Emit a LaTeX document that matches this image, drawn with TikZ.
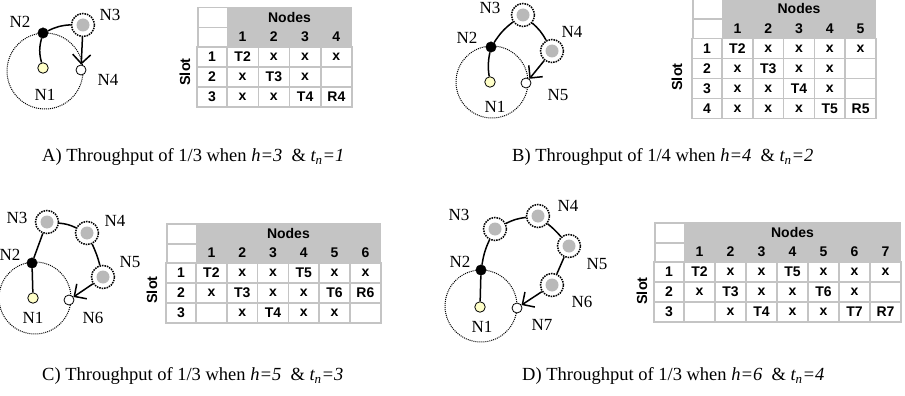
\documentclass[tikz,border=0pt]{standalone}
\usepackage{fontspec}
\setmainfont{Liberation Serif}
\newfontfamily\arialf{Liberation Sans}
\usetikzlibrary{arrows.meta}
\definecolor{gridgray}{RGB}{196,196,196}
\definecolor{hdrgray}{RGB}{196,196,196}
\definecolor{nodegray}{RGB}{185,185,185}
\definecolor{paleyellow}{RGB}{255,255,200}

\newcommand\slottable[5]{%
 % #1 prefix, #2 x0, #3 y0, #4 ncols, #5 colw, rows taken from \tblrows
 \begin{scope}[shift={(#2,#3)}]
  \node[hdrbox, anchor=north west, minimum width={#4*#5pt}] (#1-hdr) at (30,0) {};
  \node[cell, anchor=north west, minimum width=30pt] (#1-e1) at (0,0) {};
  \node[cell, anchor=north west, minimum width=30pt] (#1-e2) at (0,20) {};
  \node[tabtext] (#1-nodes) at ({30+#4*#5/2}, 10) {Nodes};
  \foreach \c in {1,...,#4} {\node[tabtext] (#1-h\c) at ({30+(\c-0.5)*#5}, 30) {\c};}
  \foreach \row [count=\r] in \tblrows {
    \node[cell, minimum width=30pt] (#1-s\r) at (15, {40+(\r-0.5)*20}) {\r};
    \foreach \cv [count=\c] in \row {
      \node[cell, minimum width=#5pt] (#1-\r-\c) at ({30+(\c-0.5)*#5}, {40+(\r-0.5)*20}) {\cv};
    }
  }
 \end{scope}}

\begin{document}
\begin{tikzpicture}[x=1pt,y=-1pt,
  cell/.style={draw=gridgray, line width=1.5pt, fill=white, minimum height=20pt, inner sep=0pt, font=\arialf\bfseries\fontsize{14}{14}\selectfont},
  hdrbox/.style={fill=hdrgray, minimum height=40pt, inner sep=0pt},
  tabtext/.style={inner sep=0pt, font=\arialf\bfseries\fontsize{14}{14}\selectfont},
  slotlbl/.style={rotate=90, inner sep=0pt, font=\arialf\bfseries\fontsize{14.5}{14.5}\selectfont},
  ring/.style={circle, draw, densely dotted, line width=1pt, inner sep=0pt},
  yellowdot/.style={circle, draw, line width=0.8pt, fill=paleyellow, minimum size=10.5pt, inner sep=0pt},
  blackdot/.style={circle, draw, fill=black, minimum size=10.5pt, inner sep=0pt},
  whitedot/.style={circle, draw, fill=white, line width=0.8pt, minimum size=10pt, inner sep=0pt},
  relay/.style={circle, draw, densely dotted, line width=1.5pt, minimum size=23pt, inner sep=0pt,
     path picture={\fill[nodegray] (path picture bounding box.center) circle (6.5);}},
  link/.style={line width=1.5pt},
  arr/.style={line width=1.5pt, -{Straight Barb[length=9pt,width=18pt,line width=1.5pt]}},
  lbl/.style={inner sep=0pt, font=\fontsize{17}{17}\selectfont},
  caption/.style={inner sep=0pt, anchor=west, font=\fontsize{18.5}{18.5}\selectfont},
]
\useasboundingbox (0,0) rectangle (905,396);

% ---------- A ----------
\node[ring, minimum size=76pt] (ringA) at (45,71) {};
\node[yellowdot] (A1) at (43,68) {};
\node[blackdot] (A2) at (43,33) {};
\node[relay] (A3) at (83,25) {};
\node[whitedot] (A4) at (81,70) {};
\draw[link] (A2) to[bend right=15] (A1);
\draw[link] (A2) to[bend left=12] (A3);
\draw[arr] (A3) -- (A4);
\node[lbl] (LA2) at (20,22) {N2};
\node[lbl] (LA3) at (110,15) {N3};
\node[lbl] (LA4) at (108,80) {N4};
\node[lbl] (LA1) at (45,95) {N1};

% ---------- B ----------
\node[ring, minimum size=72pt] (ringB) at (492,82) {};
\node[yellowdot] (B1) at (490,82) {};
\node[blackdot] (B2) at (491,47) {};
\node[relay] (B3) at (523,15) {};
\node[relay] (B4) at (552,51) {};
\node[whitedot] (B5) at (526,83) {};
\draw[link] (B2) to[bend right=10] (B1);
\draw[link] (B2) to[bend left=10] (B3);
\draw[link] (B3) to[bend left=10] (B4);
\draw[arr] (B4) -- (B5);
\node[lbl] (LB3) at (490,7.5) {N3};
\node[lbl] (LB2) at (467,38) {N2};
\node[lbl] (LB4) at (572,32) {N4};
\node[lbl] (LB5) at (558,95) {N5};
\node[lbl] (LB1) at (495,107) {N1};

% ---------- C ----------
\node[ring, minimum size=72pt] (ringC) at (35,298) {};
\node[yellowdot] (C1) at (33,298) {};
\node[blackdot] (C2) at (32,263) {};
\node[relay] (C3) at (47,222) {};
\node[relay] (C4) at (87,233) {};
\node[relay] (C5) at (103,277) {};
\node[whitedot] (C6) at (69,300) {};
\draw[link] (C2) -- (C1);
\draw[link] (C2) -- (C3);
\draw[link] (C3) to[bend left=10] (C4);
\draw[link] (C4) to[bend left=5] (C5);
\draw[arr] (C5) -- (C6);
\node[lbl] (LC3) at (17,218) {N3};
\node[lbl] (LC4) at (115,221) {N4};
\node[lbl] (LC2) at (10,255) {N2};
\node[lbl] (LC5) at (130,262) {N5};
\node[lbl] (LC6) at (93,318) {N6};
\node[lbl] (LC1) at (33,318) {N1};

% ---------- D ----------
\node[ring, minimum size=72pt] (ringD) at (481,306) {};
\node[yellowdot] (D1) at (480,307) {};
\node[blackdot] (D2) at (481,270) {};
\node[relay] (D3) at (495,229) {};
\node[relay] (D4) at (538,216) {};
\node[relay] (D5) at (569,246) {};
\node[relay] (D6) at (552,285) {};
\node[whitedot] (D7) at (517,308) {};
\draw[link] (D2) -- (D1);
\draw[link] (D2) to[bend left=8] (D3);
\draw[link] (D3) to[bend left=10] (D4);
\draw[link] (D4) to[bend left=5] (D5);
\draw[link] (D5) -- (D6);
\draw[arr] (D6) -- (D7);
\node[lbl] (LD3) at (459,215) {N3};
\node[lbl] (LD2) at (460,262) {N2};
\node[lbl] (LD4) at (568,206) {N4};
\node[lbl] (LD5) at (597,264) {N5};
\node[lbl] (LD6) at (582,302) {N6};
\node[lbl] (LD7) at (542,325) {N7};
\node[lbl] (LD1) at (482,327) {N1};

% ---------- tables ----------
\def\tblrows{{T2,x,x,x},{x,T3,x,{}},{x,x,T4,R4}}
\slottable{TA}{197}{7}{4}{31.25}
\node[slotlbl] (SA) at (185,72) {Slot};

\def\tblrows{{T2,x,x,x,x},{x,T3,x,x,{}},{x,x,T4,x,{}},{x,x,x,T5,R5}}
\slottable{TB}{692}{-1.5}{5}{30.8}
\node[slotlbl] (SB) at (677,77) {Slot};

\def\tblrows{{T2,x,x,T5,x,x},{x,T3,x,x,T6,R6},{{},x,T4,x,x,{}}}
\slottable{TC}{166}{223}{6}{30.8}
\node[slotlbl] (SC) at (152,290) {Slot};

\def\tblrows{{T2,x,x,T5,x,x,x},{x,T3,x,x,T6,x,{}},{{},x,T4,x,x,T7,R7}}
\slottable{TD}{654}{222}{7}{31}
\node[slotlbl] (SD) at (642,291) {Slot};

% ---------- captions ----------
\node[caption] (capA) at (42,157) {A) Throughput of 1/3 when \textit{h=3}~ \& \textit{t\textsubscript{n}=1}};
\node[caption] (capB) at (512,157) {B) Throughput of 1/4 when \textit{h=4}~ \& \textit{t\textsubscript{n}=2}};
\node[caption] (capC) at (42,376) {C) Throughput of 1/3 when \textit{h=5}~ \& \textit{t\textsubscript{n}=3}};
\node[caption] (capD) at (522,376) {D) Throughput of 1/3 when \textit{h=6}~ \& \textit{t\textsubscript{n}=4}};
\end{tikzpicture}
\end{document}
